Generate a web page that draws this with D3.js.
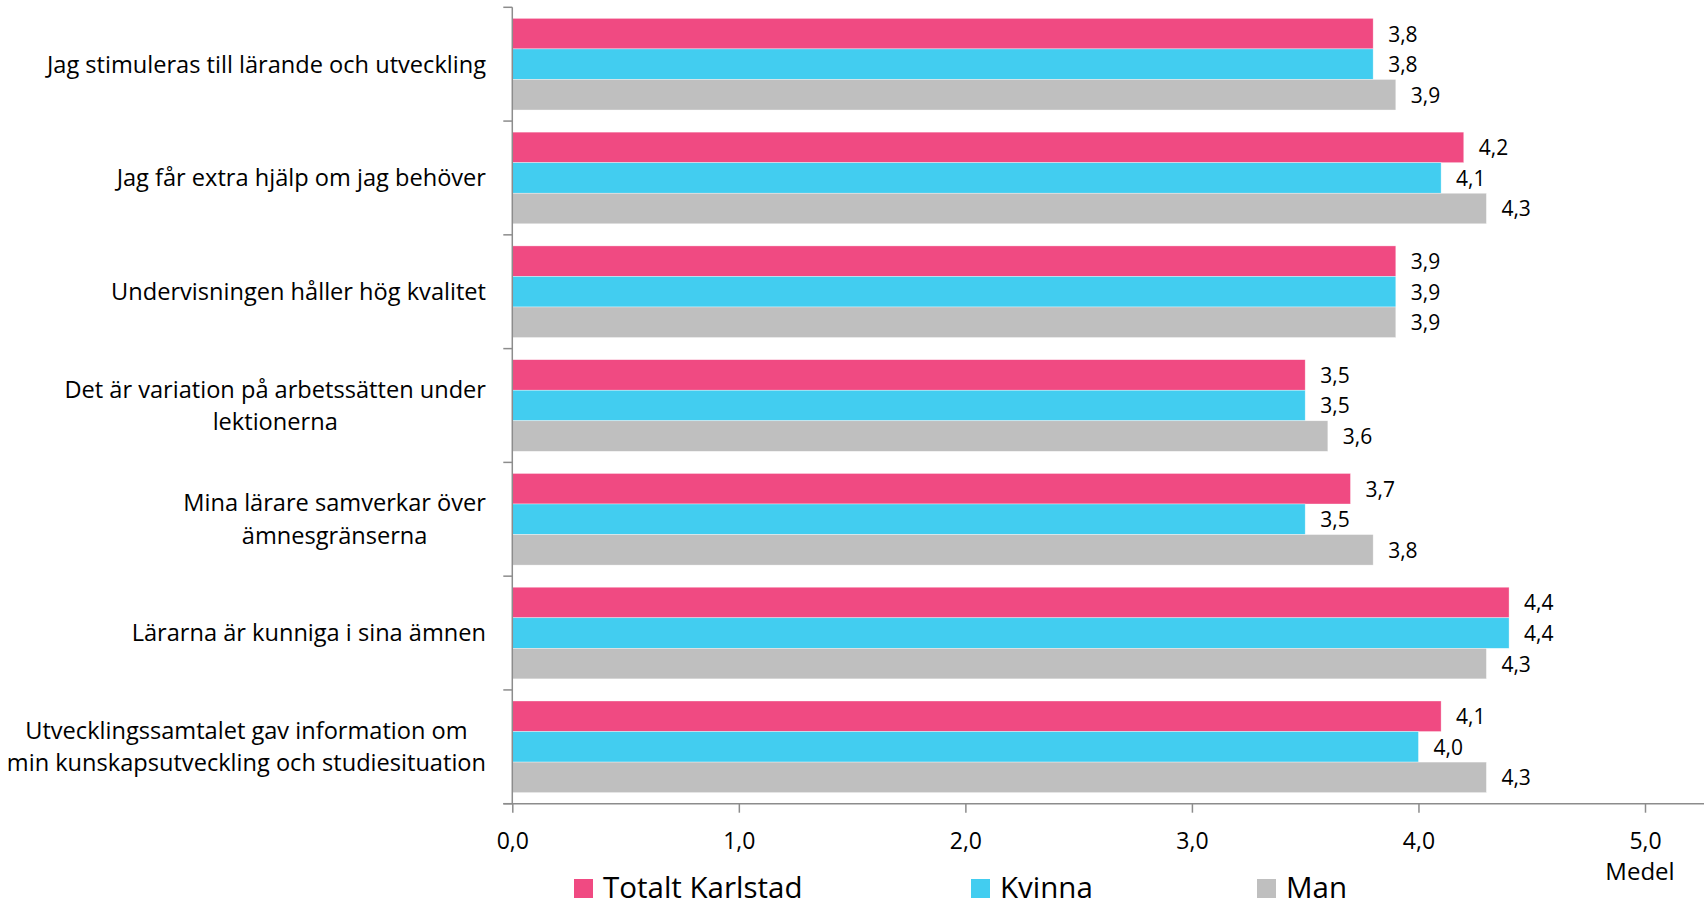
<!DOCTYPE html>
<html><head><meta charset="utf-8">
<script src="https://cdn.jsdelivr.net/npm/d3@7"></script>
<style>
body{margin:0;background:#fff;}
svg text{font-family:'Open Sans',sans-serif;fill:#000;}
</style>
</head><body><svg id="c" width="1704" height="906"></svg>
<script>
const categories = [
  ["Jag stimuleras till lärande och utveckling"],
  ["Jag får extra hjälp om jag behöver"],
  ["Undervisningen håller hög kvalitet"],
  ["Det är variation på arbetssätten under", "lektionerna"],
  ["Mina lärare samverkar över", "ämnesgränserna"],
  ["Lärarna är kunniga i sina ämnen"],
  ["Utvecklingssamtalet gav information om", "min kunskapsutveckling och studiesituation"]
];
const seriesNames = ["Totalt Karlstad", "Kvinna", "Man"];
const totalt = [3.8, 4.2, 3.9, 3.5, 3.7, 4.4, 4.1];
const kvinna = [3.8, 4.1, 3.9, 3.5, 3.5, 4.4, 4.0];
const man    = [3.9, 4.3, 3.9, 3.6, 3.8, 4.3, 4.3];
const xTicks = [0, 1, 2, 3, 4, 5];
const axisTitle = "Medel";
const colors = ["#F04A82", "#42CDF0", "#BFBFBF"];

const seriesValues = [totalt, kvinna, man];
const svg = d3.select("#c");
const axisColor = "#8c8c8c";

const x = d3.scaleLinear().domain([0, 5]).range([512.3, 1645]);
const y = d3.scaleBand().domain(d3.range(categories.length)).range([7.3, 803.7]).padding(0);
const yIn = d3.scaleBand().domain(seriesNames).range([0, y.bandwidth()]).paddingInner(0).paddingOuter(0.362);
const fmt = v => d3.format(".1f")(v).replace(".", ",");

// bars
const groups = svg.append("g").selectAll("g").data(categories.map((c, i) => i))
  .join("g").attr("transform", i => `translate(0,${y(i)})`);
groups.selectAll("rect")
  .data(i => seriesNames.map((s, k) => ({s, k, v: seriesValues[k][i]})))
  .join("rect")
  .attr("x", x(0))
  .attr("y", d => yIn(d.s))
  .attr("width", d => x(d.v) - x(0))
  .attr("height", yIn.bandwidth())
  .attr("fill", d => colors[d.k])
  .attr("stroke", "#fff").attr("stroke-width", 0.6).attr("stroke-opacity", 0.6);
groups.selectAll("text.val")
  .data(i => seriesNames.map((s, k) => ({s, k, v: seriesValues[k][i]})))
  .join("text").attr("class", "val")
  .attr("x", d => x(d.v) + 15)
  .attr("y", d => yIn(d.s) + yIn.bandwidth() / 2 + 8)
  .style("font-size", "21px")
  .text(d => fmt(d.v));

// y axis line & ticks
const yAxis = svg.append("g");
yAxis.append("line").attr("x1", x(0)).attr("x2", x(0))
  .attr("y1", y.range()[0]).attr("y2", y.range()[1])
  .attr("stroke", axisColor).attr("stroke-width", 1.5);
const boundaries = d3.range(categories.length + 1).map(i => y.range()[0] + i * y.step());
yAxis.selectAll("line.t").data(boundaries).join("line").attr("class", "t")
  .attr("x1", x(0) - 9).attr("x2", x(0)).attr("y1", d => d).attr("y2", d => d)
  .attr("stroke", axisColor).attr("stroke-width", 1.5);

// category labels
const labelRight = 486;
const lineH = 32.4;
categories.forEach((lines, i) => {
  const cy = y(i) + y.bandwidth() / 2;
  const t = svg.append("text").style("font-size", "23.6px");
  const n = lines.length;
  const tsp = lines.map((ln, j) => t.append("tspan")
    .attr("y", cy + 8.4 + (j - (n - 1) / 2) * lineH).text(ln));
  const widths = tsp.map(s => s.node().getComputedTextLength());
  const maxW = d3.max(widths);
  if (n === 1) {
    t.attr("text-anchor", "end"); tsp[0].attr("x", labelRight);
  } else {
    t.attr("text-anchor", "middle"); tsp.forEach(s => s.attr("x", labelRight - maxW / 2));
  }
});

// x axis
const xAxisY = y.range()[1];
const xg = svg.append("g").attr("transform", `translate(0,${xAxisY})`)
  .call(d3.axisBottom(x).tickValues(xTicks).tickSize(9).tickFormat(fmt));
xg.select(".domain").remove();
xg.selectAll(".tick line").attr("stroke", axisColor).attr("stroke-width", 1.5);
xg.selectAll(".tick text").attr("y", 45.5).attr("dy", 0)
  .style("font-size", "23px").style("font-family", "'Open Sans',sans-serif").attr("fill", "#000");
svg.append("line").attr("x1", x(0) - 9).attr("x2", 1704).attr("y1", xAxisY).attr("y2", xAxisY)
  .attr("stroke", axisColor).attr("stroke-width", 1.5);
svg.append("text").attr("x", 1640).attr("y", 879.5).attr("text-anchor", "middle")
  .style("font-size", "24px").text(axisTitle);

// legend
const legendX = [574, 971, 1257];
const lg = svg.append("g").selectAll("g").data(seriesNames).join("g")
  .attr("transform", (d, k) => `translate(${legendX[k]},879)`);
lg.append("rect").attr("width", 19).attr("height", 19).attr("fill", (d, k) => colors[k]);
lg.append("text").attr("x", 29).attr("y", 18.5).style("font-size", "29.5px").text(d => d);
</script>
</body></html>
